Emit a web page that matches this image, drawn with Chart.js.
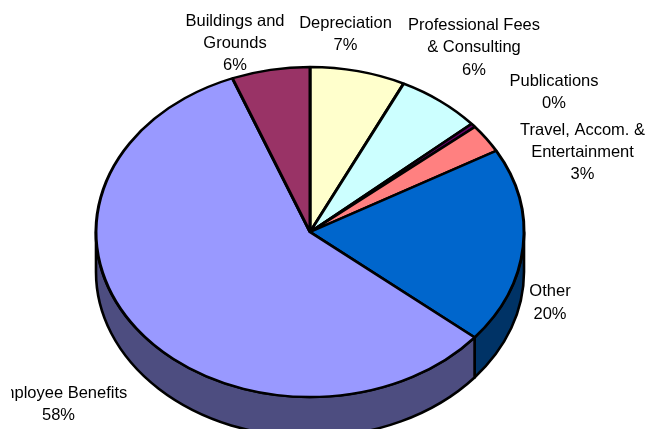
<!DOCTYPE html>
<html>
<head>
<meta charset="utf-8">
<style>
html,body{margin:0;padding:0;background:#fff;width:648px;height:429px;overflow:hidden}
canvas{display:block}
</style>
<script src="https://cdn.jsdelivr.net/npm/chart.js@4"></script>
</head>
<body>
<canvas id="c" width="648" height="464"></canvas>
<script>
const categories = ["Depreciation","Professional Fees & Consulting","Publications","Travel, Accom. & Entertainment","Other","Employee Benefits","Buildings and Grounds"];
const values = [7.2,6.4,0.4,2.8,19.2,58.0,5.9];
const topColors = ["#FFFFCC","#CCFFFF","#660066","#FF8080","#0066CC","#9999FF","#993366"];
const sideColors = ["#808066","#668080","#330033","#804040","#003366","#4D4D80","#4D1A33"];
const labelLines = [["Depreciation","7%"],["Professional Fees","& Consulting","6%"],["Publications","0%"],["Travel, Accom. &","Entertainment","3%"],["Other","20%"],["Employee Benefits","58%"],["Buildings and","Grounds","6%"]];
const labelX = [345.5,474,554,582.5,550,58.5,235];
const labelY = [[23.5,45.5],[25.5,47.5,70.5],[81.5,103.5],[130.5,152.5,174.5],[291.5,314.5],[393.5,415.5],[21.5,43.5,65.5]];
const SQUASH = 165/214, DEPTH = 40, LABEL_CLIP_LEFT = 11;

const pie3d = {
  id:'pie3d',
  beforeDatasetsDraw(chart){
    const ctx = chart.ctx, arcs = chart.getDatasetMeta(0).data;
    ctx.save();
    ctx.lineWidth = 2.6; ctx.strokeStyle = '#000'; ctx.lineJoin = 'round';
    arcs.forEach((a,i)=>{
      const p = a.getProps(['x','y','startAngle','endAngle','outerRadius'],true);
      const rx = p.outerRadius, ry = rx*SQUASH;
      for(let k=-1;k<=1;k++){
        const s = Math.max(p.startAngle+k*2*Math.PI,0), e = Math.min(p.endAngle+k*2*Math.PI,Math.PI);
        if(e<=s) continue;
        ctx.beginPath();
        ctx.ellipse(p.x,p.y,rx,ry,0,s,e);
        ctx.ellipse(p.x,p.y+DEPTH,rx,ry,0,e,s,true);
        ctx.closePath();
        ctx.fillStyle = sideColors[i];
        ctx.fill(); ctx.stroke();
      }
    });
    const a0 = arcs[0];
    ctx.restore();
    ctx.save();
    ctx.translate(a0.x,a0.y); ctx.scale(1,SQUASH); ctx.translate(-a0.x,-a0.y);
  },
  afterDatasetsDraw(chart){
    const ctx = chart.ctx;
    ctx.restore();
    ctx.save();
    ctx.font = '16.5px "Liberation Sans", Arial, sans-serif';
    ctx.fillStyle = '#000'; ctx.textAlign = 'center'; ctx.textBaseline = 'middle';
    ctx.beginPath(); ctx.rect(LABEL_CLIP_LEFT,0,chart.width,chart.height); ctx.clip();
    labelLines.forEach((lines,i)=>lines.forEach((t,j)=>ctx.fillText(t,labelX[i],labelY[i][j])));
    ctx.restore();
  }
};

new Chart(document.getElementById('c'),{
  type:'pie',
  data:{labels:categories,datasets:[{data:values,backgroundColor:topColors,borderColor:'#000',borderWidth:3,clip:false,hoverOffset:0}]},
  options:{
    responsive:false,animation:false,radius:214,
    layout:{padding:{right:28}},
    plugins:{legend:{display:false},tooltip:{enabled:false},title:{display:false}},
    events:[]
  },
  plugins:[pie3d]
});
</script>
</body>
</html>
